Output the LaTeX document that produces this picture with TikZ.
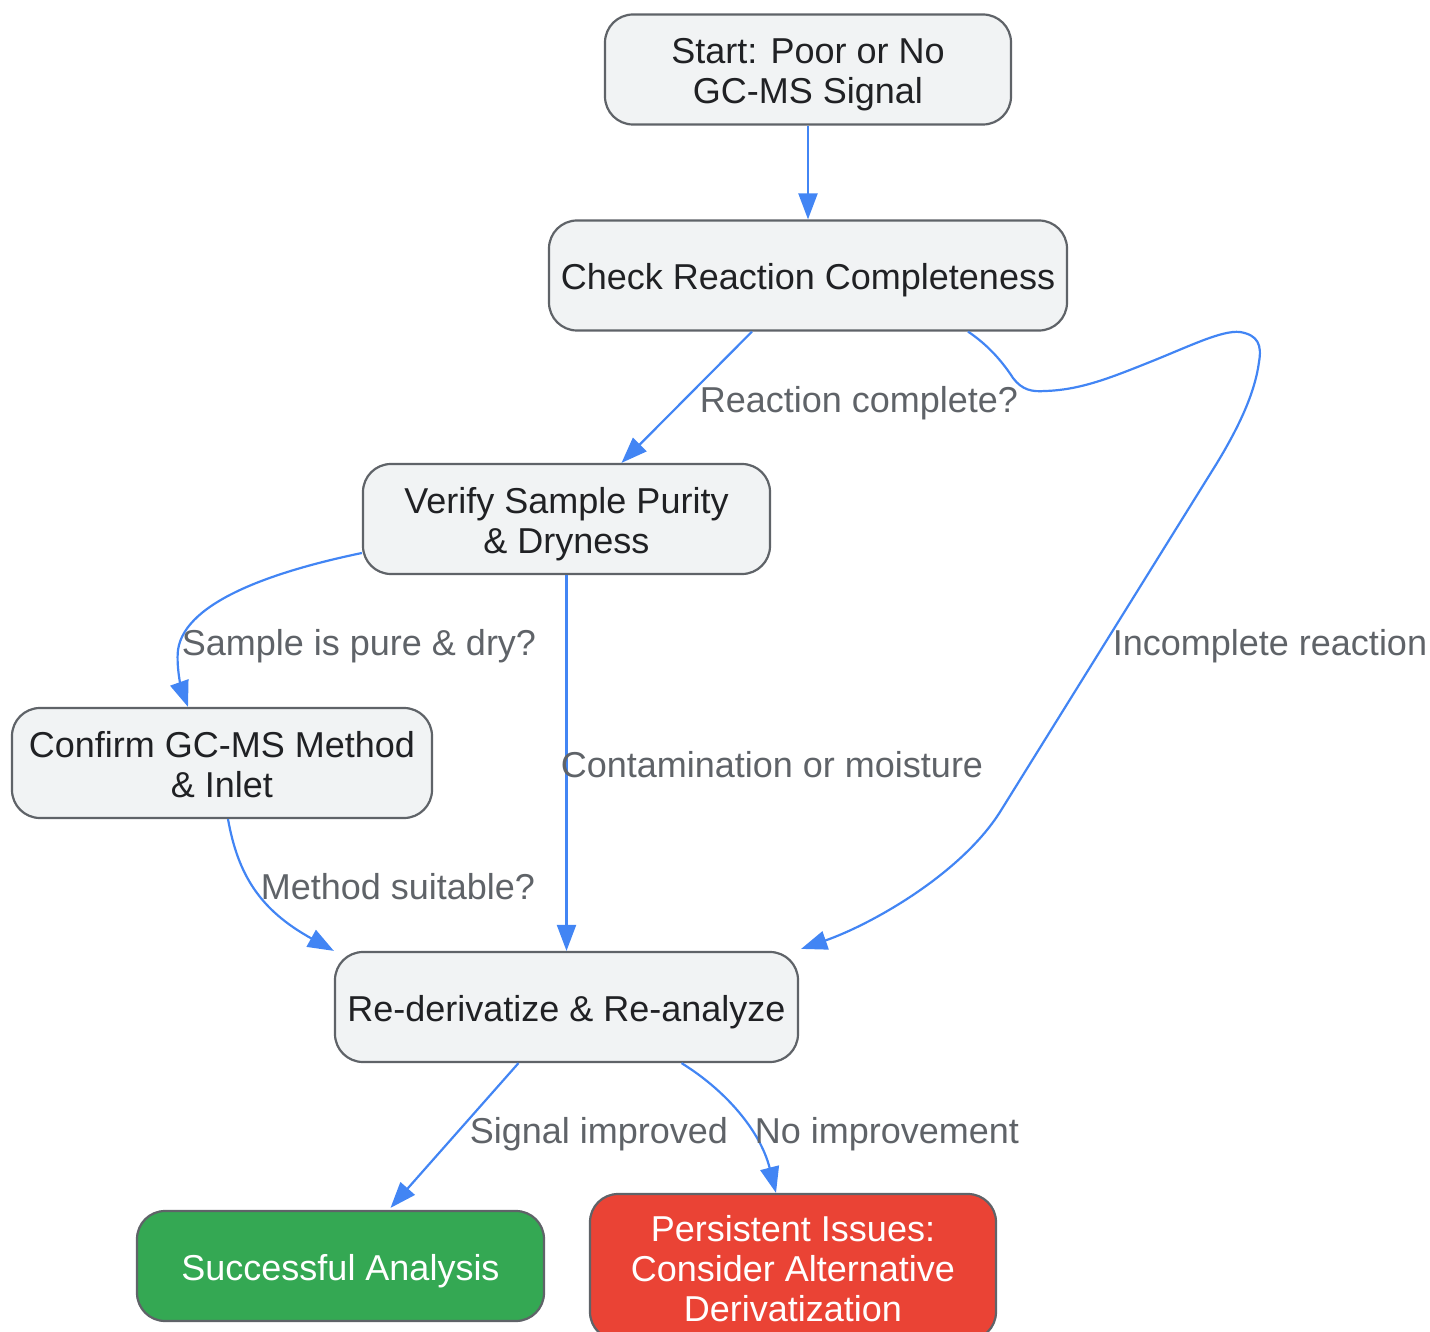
\documentclass[tikz,border=0pt]{standalone}
\usepackage{fontspec}
\setmainfont{Liberation Sans}
\usetikzlibrary{arrows.meta,calc}
\definecolor{nodefill}{HTML}{F1F3F4}
\definecolor{nodeline}{HTML}{5F6368}
\definecolor{nodetext}{HTML}{202124}
\definecolor{edgeblue}{HTML}{4285F4}
\definecolor{labelgray}{HTML}{5F6368}
\definecolor{okgreen}{HTML}{34A853}
\definecolor{badred}{HTML}{EA4335}
\newcommand{\topstrut}{\rule{0pt}{37.8pt}}
\newcommand{\botstrut}{\rule[-9pt]{0pt}{0pt}}
\begin{document}
\begin{tikzpicture}[x=1pt,y=-1pt,
  struts/.style={execute at begin node=\topstrut, execute at end node=\botstrut},
  box/.style={draw=nodeline, line width=2.2pt, fill=nodefill, rounded corners=28pt,
    text=nodetext, align=center, inner sep=0pt, struts,
    font=\fontsize{36}{40}\selectfont, minimum height=110pt},
  greenbox/.style={box, fill=okgreen, text=white},
  redbox/.style={box, fill=badred, text=white},
  elabel/.style={text=labelgray, font=\fontsize{36}{40}\selectfont, inner sep=0pt, struts},
  flow/.style={draw=edgeblue, line width=2.2pt, -{Triangle[length=26pt,width=19pt]}}
]
\useasboundingbox (0,0) rectangle (1430,1332);

\node[box, minimum width=406pt] (start) at (808,69.5) {\topstrut Start: Poor or No\\GC-MS Signal\botstrut};
\node[box, minimum width=518pt] (check) at (808,275.5) {Check Reaction Completeness};
\node[box, minimum width=407pt] (verify) at (566.5,519) {\topstrut Verify Sample Purity\\\& Dryness\botstrut};
\node[box, minimum width=420pt] (confirm) at (222,763) {\topstrut Confirm GC-MS Method\\\& Inlet\botstrut};
\node[box, minimum width=463pt] (rederiv) at (566.5,1007) {Re-derivatize \& Re-analyze};
\node[greenbox, minimum width=407pt] (success) at (340.5,1266) {Successful Analysis};
\node[redbox, minimum width=406pt, minimum height=146pt] (persist) at (793,1267) {\topstrut Persistent Issues:\\Consider Alternative\\Derivatization\botstrut};

% edges
\draw[flow] (start.south) -- (check.north);
\draw[flow] ($(check.south)+(-56,0)$) -- ($(verify.north)+(55,0)$);
\draw[flow] ($(check.south)+(160,0)$)
  .. controls (985,343) and (1000,358) .. (1013,378)
  .. controls (1022,390) and (1032,392) .. (1045,391)
  .. controls (1080,390) and (1110,378) .. (1150,362)
  .. controls (1190,346) and (1222,330) .. (1240,332)
  .. controls (1258,335) and (1262,345) .. (1259,362)
  .. controls (1255,392) and (1240,425) .. (1217,463)
  -- (1000,812)
  .. controls (960,875) and (870,925) .. ($(rederiv.north east)+(2,-2)$);
\draw[flow] ($(verify.west)+(0,34)$)
  .. controls (280,570) and (185,600) .. (178,650)
  .. controls (176,668) and (182,690) .. ($(confirm.north)+(-34,0)$);
\draw[flow] (verify.south) -- (rederiv.north);
\draw[flow] ($(confirm.south)+(6,0)$)
  .. controls (238,875) and (260,910) .. (rederiv.north west);
\draw[flow] ($(rederiv.south)+(-48,0)$) -- ($(success.north)+(50,-2)$);
\draw[flow] ($(rederiv.south)+(115,0)$)
  .. controls (725,1090) and (760,1130) .. ($(persist.north)+(-17,0)$);

% labels
\node[elabel] (lab1) at (859,398.5) {Reaction complete?};
\node[elabel] (lab2) at (1270,641.5) {Incomplete reaction};
\node[elabel] (lab3) at (359,641.5) {Sample is pure \& dry?};
\node[elabel] (lab4) at (772,763.5) {Contamination or moisture};
\node[elabel] (lab5) at (398,885.5) {Method suitable?};
\node[elabel] (lab6) at (599,1129.5) {Signal improved};
\node[elabel] (lab7) at (887,1129.5) {No improvement};
\end{tikzpicture}
\end{document}
